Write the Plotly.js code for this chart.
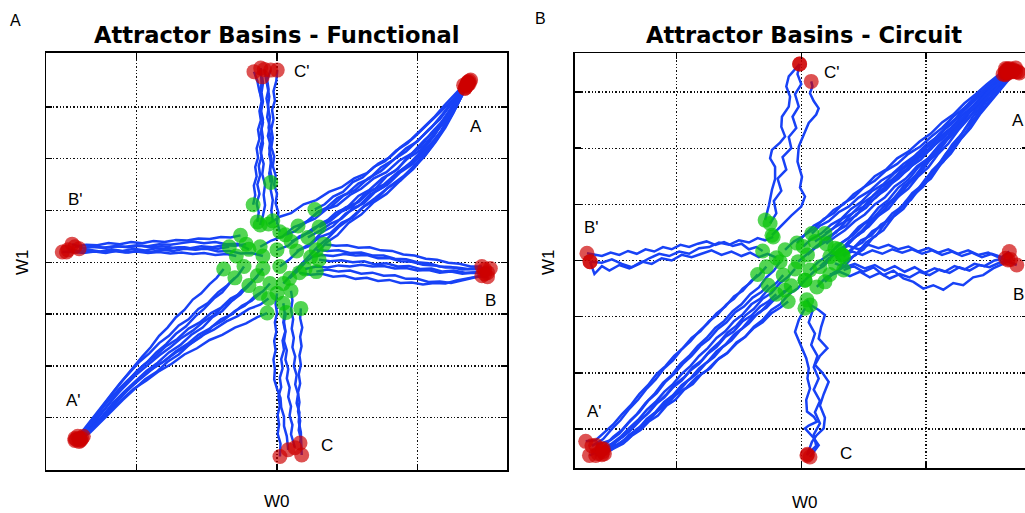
<!DOCTYPE html>
<html>
<head>
<meta charset="utf-8">
<script src="https://cdn.plot.ly/plotly-3.0.1.min.js"></script>
<style>
html,body{margin:0;padding:0;background:#fff;overflow:hidden;}
#chart{width:1035px;height:513px;}
</style>
</head>
<body>
<div id="chart"></div>
<script>
// ---------------- DATA ----------------
const panelTitles = ["Attractor Basins - Functional", "Attractor Basins - Circuit"];
const panelLetters = ["A", "B"];
const basinNames = ["A", "A'", "B", "B'", "C", "C'"];

// Functional network: trajectories (W0, W1) from start (green) to attractor (red)
const funcToA = [
 [[0.27,1.02],[0.34,1.12],[0.4,1.27],[0.47,1.36],[0.54,1.55],[0.61,1.64],[0.69,1.84],[0.77,1.95],[0.85,2.16],[0.93,2.3],[1.01,2.5],[1.08,2.68],[1.15,2.86],[1.22,3.05],[1.28,3.22],[1.34,3.4],[1.38,3.52]],
 [[0.15,0.7],[0.22,0.8],[0.29,0.97],[0.35,1.05],[0.43,1.24],[0.5,1.33],[0.58,1.52],[0.66,1.62],[0.74,1.83],[0.83,1.98],[0.92,2.2],[1.0,2.33],[1.08,2.56],[1.16,2.76],[1.22,2.98],[1.29,3.2],[1.35,3.42]],
 [[0.06,0.53],[0.13,0.6],[0.2,0.76],[0.27,0.84],[0.35,1.02],[0.43,1.1],[0.52,1.3],[0.6,1.42],[0.69,1.62],[0.78,1.74],[0.87,1.96],[0.96,2.1],[1.05,2.36],[1.13,2.55],[1.2,2.8],[1.27,3.05],[1.33,3.32],[1.37,3.45]],
 [[0.0,0.24],[0.08,0.32],[0.16,0.5],[0.24,0.58],[0.32,0.76],[0.4,0.86],[0.49,1.06],[0.58,1.16],[0.67,1.38],[0.76,1.5],[0.86,1.74],[0.95,1.9],[1.04,2.14],[1.12,2.36],[1.19,2.6],[1.25,2.86],[1.3,3.12],[1.34,3.36]],
 [[0.02,-0.08],[0.09,0.06],[0.16,0.24],[0.24,0.36],[0.32,0.58],[0.4,0.7],[0.49,0.94],[0.58,1.08],[0.67,1.32],[0.76,1.46],[0.86,1.72],[0.95,1.92],[1.04,2.18],[1.12,2.44],[1.19,2.74],[1.26,3.04],[1.31,3.3],[1.36,3.47]],
 [[0.09,-0.31],[0.15,-0.16],[0.21,0.02],[0.28,0.16],[0.35,0.38],[0.43,0.52],[0.51,0.76],[0.6,0.92],[0.69,1.16],[0.78,1.32],[0.88,1.58],[0.97,1.8],[1.06,2.08],[1.14,2.38],[1.21,2.7],[1.27,3.0],[1.32,3.28],[1.36,3.44]],
 [[0.045,-0.41],[0.1,-0.25],[0.16,-0.06],[0.22,0.1],[0.29,0.3],[0.36,0.46],[0.44,0.68],[0.52,0.84],[0.61,1.06],[0.7,1.24],[0.8,1.46],[0.9,1.66],[1.0,1.92],[1.08,2.2],[1.16,2.5],[1.23,2.82],[1.29,3.12],[1.34,3.36]],
 [[-0.06,0.74],[0.02,0.88],[0.1,0.95],[0.19,1.12],[0.28,1.2],[0.37,1.36],[0.46,1.45],[0.55,1.62],[0.64,1.72],[0.72,1.9],[0.8,2.02],[0.88,2.22],[0.96,2.38],[1.04,2.6],[1.12,2.8],[1.19,3.02],[1.26,3.22],[1.33,3.42]],
 [[0.3,0.68],[0.38,0.8],[0.46,0.98],[0.54,1.08],[0.62,1.3],[0.7,1.42],[0.78,1.66],[0.86,1.8],[0.94,2.06],[1.02,2.22],[1.1,2.5],[1.17,2.7],[1.24,2.98],[1.3,3.22],[1.36,3.46]],
 [[0.14,0.22],[0.22,0.3],[0.3,0.48],[0.38,0.56],[0.46,0.76],[0.54,0.86],[0.62,1.08],[0.7,1.2],[0.79,1.44],[0.88,1.58],[0.97,1.84],[1.05,2.04],[1.13,2.32],[1.2,2.6],[1.26,2.9],[1.31,3.18],[1.35,3.4]],
 [[-0.12,0.3],[-0.04,0.42],[0.04,0.5],[0.12,0.68],[0.2,0.76],[0.29,0.96],[0.38,1.06],[0.47,1.28],[0.56,1.4],[0.65,1.62],[0.74,1.76],[0.83,1.98],[0.92,2.14],[1.01,2.38],[1.1,2.6],[1.18,2.86],[1.25,3.1],[1.31,3.34],[1.36,3.48]],
 [[0.22,0.48],[0.3,0.6],[0.38,0.74],[0.46,0.84],[0.54,1.04],[0.62,1.14],[0.7,1.36],[0.79,1.5],[0.88,1.74],[0.97,1.9],[1.06,2.16],[1.14,2.4],[1.21,2.68],[1.27,2.96],[1.32,3.22],[1.37,3.5]],
 [[0.1,0.4],[0.18,0.5],[0.26,0.66],[0.34,0.76],[0.42,0.96],[0.5,1.06],[0.58,1.28],[0.66,1.4],[0.75,1.62],[0.84,1.76],[0.93,2.0],[1.02,2.16],[1.1,2.42],[1.18,2.66],[1.25,2.94],[1.31,3.22],[1.36,3.44]]
];
const funcToAp = [
 [[-0.38,-0.13],[-0.43,-0.3],[-0.48,-0.42],[-0.54,-0.6],[-0.6,-0.72],[-0.66,-0.92],[-0.72,-1.06],[-0.78,-1.26],[-0.84,-1.42],[-0.9,-1.64],[-0.96,-1.82],[-1.03,-2.04],[-1.1,-2.28],[-1.17,-2.52],[-1.24,-2.78],[-1.3,-3.0],[-1.36,-3.2],[-1.42,-3.36]],
 [[-0.235,-0.08],[-0.28,-0.26],[-0.33,-0.38],[-0.39,-0.58],[-0.45,-0.7],[-0.52,-0.9],[-0.58,-1.04],[-0.65,-1.24],[-0.72,-1.38],[-0.79,-1.58],[-0.86,-1.74],[-0.93,-1.94],[-1.0,-2.1],[-1.07,-2.32],[-1.14,-2.54],[-1.21,-2.78],[-1.28,-3.02],[-1.35,-3.22],[-1.41,-3.4]],
 [[-0.14,-0.26],[-0.19,-0.42],[-0.25,-0.54],[-0.31,-0.72],[-0.38,-0.84],[-0.45,-1.02],[-0.52,-1.14],[-0.6,-1.32],[-0.68,-1.46],[-0.76,-1.64],[-0.84,-1.8],[-0.92,-1.98],[-1.0,-2.16],[-1.08,-2.38],[-1.16,-2.6],[-1.23,-2.84],[-1.3,-3.06],[-1.37,-3.26],[-1.43,-3.42]],
 [[-0.12,-0.6],[-0.18,-0.74],[-0.25,-0.84],[-0.32,-1.0],[-0.4,-1.1],[-0.48,-1.28],[-0.56,-1.4],[-0.64,-1.58],[-0.72,-1.72],[-0.8,-1.9],[-0.88,-2.04],[-0.96,-2.22],[-1.04,-2.4],[-1.12,-2.62],[-1.2,-2.84],[-1.27,-3.06],[-1.34,-3.26],[-1.4,-3.44]],
 [[-0.06,-0.7],[-0.12,-0.82],[-0.2,-0.9],[-0.28,-1.04],[-0.36,-1.14],[-0.45,-1.3],[-0.54,-1.42],[-0.63,-1.6],[-0.72,-1.74],[-0.81,-1.92],[-0.9,-2.08],[-0.98,-2.26],[-1.06,-2.46],[-1.14,-2.68],[-1.22,-2.9],[-1.29,-3.1],[-1.36,-3.3],[-1.41,-3.46]],
 [[-0.1,-0.12],[-0.15,-0.3],[-0.2,-0.42],[-0.26,-0.62],[-0.32,-0.74],[-0.39,-0.94],[-0.46,-1.06],[-0.53,-1.26],[-0.61,-1.4],[-0.69,-1.6],[-0.77,-1.74],[-0.85,-1.94],[-0.93,-2.1],[-1.01,-2.3],[-1.09,-2.5],[-1.17,-2.72],[-1.24,-2.96],[-1.31,-3.16],[-1.38,-3.36]],
 [[-0.07,-0.98],[-0.14,-1.06],[-0.22,-1.18],[-0.3,-1.26],[-0.39,-1.4],[-0.48,-1.5],[-0.57,-1.66],[-0.66,-1.78],[-0.75,-1.96],[-0.84,-2.1],[-0.93,-2.28],[-1.02,-2.44],[-1.1,-2.64],[-1.18,-2.84],[-1.26,-3.04],[-1.33,-3.24],[-1.39,-3.4]],
 [[-0.2,-0.45],[-0.26,-0.6],[-0.33,-0.7],[-0.4,-0.88],[-0.47,-0.98],[-0.55,-1.16],[-0.63,-1.28],[-0.71,-1.48],[-0.79,-1.62],[-0.87,-1.82],[-0.95,-1.98],[-1.03,-2.18],[-1.11,-2.4],[-1.19,-2.64],[-1.26,-2.88],[-1.33,-3.1],[-1.39,-3.3],[-1.44,-3.44]],
 [[-0.05,-0.41],[-0.1,-0.56],[-0.16,-0.66],[-0.23,-0.84],[-0.3,-0.94],[-0.38,-1.12],[-0.46,-1.24],[-0.54,-1.44],[-0.62,-1.58],[-0.7,-1.78],[-0.78,-1.92],[-0.86,-2.12],[-0.94,-2.26],[-1.02,-2.46],[-1.1,-2.66],[-1.18,-2.88],[-1.26,-3.1],[-1.33,-3.28],[-1.4,-3.42]],
 [[-0.3,-0.3],[-0.36,-0.46],[-0.42,-0.58],[-0.49,-0.78],[-0.56,-0.9],[-0.63,-1.1],[-0.7,-1.22],[-0.77,-1.42],[-0.84,-1.56],[-0.91,-1.76],[-0.98,-1.92],[-1.05,-2.12],[-1.12,-2.34],[-1.19,-2.58],[-1.26,-2.82],[-1.32,-3.04],[-1.38,-3.24],[-1.44,-3.4]]
];
const funcToB = [
 [[0.335,0.35],[0.42,0.32],[0.5,0.33],[0.58,0.28],[0.66,0.29],[0.74,0.23],[0.82,0.22],[0.9,0.15],[0.98,0.13],[1.06,0.07],[1.14,0.05],[1.22,-0.01],[1.3,-0.03],[1.38,-0.08],[1.46,-0.08]],
 [[0.28,0.24],[0.36,0.22],[0.44,0.23],[0.52,0.18],[0.6,0.19],[0.68,0.13],[0.76,0.13],[0.84,0.07],[0.92,0.06],[1.0,0.0],[1.08,-0.02],[1.16,-0.08],[1.24,-0.09],[1.32,-0.14],[1.4,-0.13],[1.48,-0.14]],
 [[0.28,-0.18],[0.36,-0.14],[0.44,-0.18],[0.52,-0.16],[0.6,-0.22],[0.68,-0.2],[0.76,-0.26],[0.84,-0.25],[0.92,-0.32],[1.0,-0.32],[1.08,-0.38],[1.16,-0.37],[1.24,-0.4],[1.32,-0.35],[1.4,-0.31],[1.46,-0.26]],
 [[0.2,-0.13],[0.28,-0.08],[0.36,-0.1],[0.44,-0.06],[0.52,-0.08],[0.6,-0.05],[0.68,-0.08],[0.76,-0.07],[0.84,-0.12],[0.92,-0.11],[1.0,-0.16],[1.08,-0.15],[1.16,-0.2],[1.24,-0.18],[1.32,-0.22],[1.4,-0.2],[1.48,-0.22]],
 [[0.3,0.05],[0.38,0.02],[0.46,0.04],[0.54,0.0],[0.62,0.02],[0.7,-0.04],[0.78,-0.02],[0.86,-0.08],[0.94,-0.07],[1.02,-0.13],[1.1,-0.12],[1.18,-0.18],[1.26,-0.16],[1.34,-0.2],[1.42,-0.19],[1.5,-0.2]],
 [[0.24,0.1],[0.32,0.14],[0.4,0.12],[0.48,0.16],[0.56,0.13],[0.64,0.14],[0.72,0.08],[0.8,0.08],[0.88,0.02],[0.96,0.01],[1.04,-0.05],[1.12,-0.06],[1.2,-0.1],[1.28,-0.1],[1.36,-0.13],[1.44,-0.11],[1.52,-0.12]],
 [[0.16,-0.2],[0.24,-0.24],[0.32,-0.22],[0.4,-0.28],[0.48,-0.26],[0.56,-0.32],[0.64,-0.3],[0.72,-0.36],[0.8,-0.34],[0.88,-0.4],[0.96,-0.39],[1.04,-0.43],[1.12,-0.4],[1.2,-0.41],[1.28,-0.35],[1.36,-0.31],[1.44,-0.27],[1.5,-0.28]]
];
const funcToBp = [
 [[-0.26,0.52],[-0.33,0.48],[-0.4,0.49],[-0.48,0.45],[-0.56,0.46],[-0.64,0.42],[-0.72,0.43],[-0.8,0.39],[-0.88,0.41],[-0.96,0.37],[-1.04,0.39],[-1.12,0.35],[-1.2,0.37],[-1.28,0.33],[-1.36,0.34],[-1.44,0.3]],
 [[-0.22,0.35],[-0.3,0.32],[-0.38,0.33],[-0.46,0.29],[-0.54,0.31],[-0.62,0.27],[-0.7,0.29],[-0.78,0.25],[-0.86,0.27],[-0.94,0.23],[-1.02,0.26],[-1.1,0.22],[-1.18,0.25],[-1.26,0.21],[-1.34,0.24],[-1.42,0.22],[-1.49,0.24]],
 [[-0.29,0.12],[-0.36,0.16],[-0.44,0.14],[-0.52,0.18],[-0.6,0.16],[-0.68,0.19],[-0.76,0.17],[-0.84,0.2],[-0.92,0.18],[-1.0,0.21],[-1.08,0.19],[-1.16,0.22],[-1.24,0.2],[-1.32,0.22],[-1.4,0.2],[-1.5,0.2]],
 [[-0.1,0.12],[-0.18,0.18],[-0.26,0.17],[-0.34,0.22],[-0.42,0.21],[-0.5,0.26],[-0.58,0.25],[-0.66,0.29],[-0.74,0.28],[-0.82,0.31],[-0.9,0.29],[-0.98,0.32],[-1.06,0.29],[-1.14,0.31],[-1.22,0.28],[-1.3,0.3],[-1.38,0.28],[-1.46,0.35]],
 [[-0.2,0.25],[-0.28,0.36],[-0.36,0.35],[-0.44,0.39],[-0.52,0.37],[-0.6,0.4],[-0.68,0.37],[-0.76,0.34],[-0.84,0.35],[-0.92,0.31],[-1.0,0.33],[-1.08,0.3],[-1.16,0.31],[-1.24,0.28],[-1.32,0.3],[-1.41,0.26]],
 [[-0.34,0.3],[-0.42,0.26],[-0.5,0.28],[-0.58,0.24],[-0.66,0.26],[-0.74,0.22],[-0.82,0.24],[-0.9,0.2],[-0.98,0.23],[-1.06,0.19],[-1.14,0.22],[-1.22,0.18],[-1.3,0.21],[-1.38,0.18],[-1.46,0.21],[-1.53,0.2]]
];
const funcToC = [
 [[0.045,-0.79],[0.055,-0.98],[0.045,-1.16],[0.06,-1.34],[0.05,-1.52],[0.07,-1.7],[0.06,-1.88],[0.08,-2.06],[0.07,-2.24],[0.09,-2.42],[0.08,-2.6],[0.1,-2.78],[0.09,-2.96],[0.11,-3.14],[0.1,-3.32],[0.128,-3.58]],
 [[0.17,-0.89],[0.165,-1.08],[0.18,-1.26],[0.165,-1.44],[0.175,-1.62],[0.16,-1.8],[0.17,-1.98],[0.155,-2.16],[0.165,-2.34],[0.15,-2.52],[0.16,-2.7],[0.15,-2.88],[0.165,-3.06],[0.155,-3.24],[0.17,-3.4],[0.164,-3.49]],
 [[0.065,-0.97],[0.05,-1.15],[0.06,-1.33],[0.04,-1.51],[0.05,-1.69],[0.03,-1.87],[0.04,-2.05],[0.02,-2.23],[0.03,-2.41],[0.01,-2.59],[0.02,-2.77],[0.005,-2.95],[0.015,-3.13],[0.005,-3.31],[0.025,-3.5],[0.021,-3.75]],
 [[0.0,-0.6],[-0.01,-0.8],[0.0,-0.98],[-0.015,-1.16],[-0.005,-1.34],[-0.02,-1.52],[-0.01,-1.7],[-0.025,-1.88],[-0.015,-2.06],[-0.02,-2.26],[0.0,-2.44],[0.025,-2.62],[0.03,-2.8],[0.05,-2.98],[0.05,-3.16],[0.07,-3.36],[0.08,-3.62]],
 [[0.1,-0.55],[0.11,-0.74],[0.1,-0.92],[0.115,-1.1],[0.105,-1.28],[0.12,-1.46],[0.11,-1.64],[0.13,-1.82],[0.12,-2.0],[0.14,-2.18],[0.13,-2.36],[0.15,-2.54],[0.14,-2.72],[0.16,-2.9],[0.155,-3.08],[0.17,-3.28],[0.176,-3.72]]
];
const funcToCp = [
 [[-0.045,1.54],[-0.055,1.72],[-0.04,1.9],[-0.055,2.08],[-0.045,2.26],[-0.065,2.44],[-0.05,2.62],[-0.07,2.8],[-0.06,2.98],[-0.075,3.16],[-0.06,3.34],[-0.07,3.52],[-0.045,3.71]],
 [[-0.17,1.11],[-0.155,1.3],[-0.165,1.48],[-0.145,1.66],[-0.155,1.84],[-0.135,2.02],[-0.145,2.2],[-0.125,2.38],[-0.135,2.56],[-0.115,2.74],[-0.125,2.92],[-0.11,3.1],[-0.12,3.28],[-0.11,3.46],[-0.116,3.75]],
 [[-0.14,0.78],[-0.13,0.96],[-0.145,1.14],[-0.125,1.32],[-0.14,1.5],[-0.12,1.68],[-0.13,1.86],[-0.11,2.04],[-0.12,2.22],[-0.1,2.4],[-0.11,2.58],[-0.1,2.76],[-0.115,2.94],[-0.105,3.12],[-0.125,3.3],[-0.14,3.5],[-0.164,3.68]],
 [[0.02,0.59],[0.0,0.78],[0.01,0.96],[-0.01,1.14],[0.0,1.32],[-0.02,1.5],[-0.01,1.68],[-0.03,1.86],[-0.02,2.04],[-0.04,2.22],[-0.03,2.4],[-0.04,2.58],[-0.025,2.76],[-0.035,2.94],[-0.015,3.12],[-0.025,3.3],[-0.005,3.5],[0.002,3.71]],
 [[-0.12,0.72],[-0.1,0.9],[-0.085,1.1],[-0.095,1.3],[-0.085,1.5],[-0.105,1.7],[-0.095,1.9],[-0.115,2.1],[-0.1,2.3],[-0.115,2.5],[-0.1,2.7],[-0.115,2.9],[-0.1,3.1],[-0.11,3.28],[-0.1,3.45],[-0.105,3.58]],
 [[-0.03,0.8],[-0.04,1.0],[-0.03,1.2],[-0.045,1.4],[-0.035,1.6],[-0.05,1.8],[-0.04,2.0],[-0.055,2.2],[-0.045,2.4],[-0.06,2.6],[-0.05,2.8],[-0.065,3.0],[-0.055,3.2],[-0.07,3.4],[-0.09,3.72]]
];

// Circuit network trajectories
const circToA = [
 [[0.34,0.07],[0.41,0.22],[0.49,0.32],[0.57,0.52],[0.65,0.62],[0.73,0.84],[0.81,0.96],[0.89,1.2],[0.97,1.34],[1.05,1.6],[1.13,1.78],[1.21,2.06],[1.29,2.26],[1.37,2.54],[1.45,2.76],[1.53,3.02],[1.61,3.2],[1.69,3.38]],
 [[0.27,0.22],[0.34,0.34],[0.42,0.46],[0.5,0.64],[0.58,0.76],[0.66,0.96],[0.74,1.1],[0.82,1.32],[0.9,1.46],[0.98,1.7],[1.06,1.86],[1.14,2.1],[1.22,2.28],[1.3,2.52],[1.38,2.7],[1.46,2.94],[1.54,3.1],[1.62,3.3],[1.67,3.42]],
 [[0.19,0.48],[0.26,0.58],[0.33,0.74],[0.41,0.84],[0.49,1.02],[0.57,1.14],[0.65,1.32],[0.73,1.44],[0.82,1.64],[0.9,1.78],[0.99,1.98],[1.07,2.14],[1.16,2.36],[1.24,2.52],[1.32,2.74],[1.41,2.92],[1.5,3.12],[1.58,3.26],[1.65,3.4]],
 [[0.085,0.48],[0.15,0.62],[0.22,0.7],[0.3,0.86],[0.38,0.96],[0.46,1.12],[0.55,1.24],[0.64,1.42],[0.73,1.54],[0.82,1.72],[0.91,1.86],[1.0,2.06],[1.09,2.2],[1.18,2.42],[1.27,2.58],[1.36,2.8],[1.45,2.98],[1.54,3.18],[1.62,3.32]],
 [[0.15,-0.11],[0.22,0.04],[0.3,0.14],[0.38,0.34],[0.46,0.46],[0.54,0.66],[0.62,0.8],[0.7,1.0],[0.78,1.14],[0.86,1.36],[0.94,1.52],[1.02,1.76],[1.1,1.94],[1.18,2.18],[1.26,2.36],[1.34,2.6],[1.42,2.8],[1.5,3.02],[1.58,3.2],[1.64,3.34]],
 [[0.23,0.07],[0.3,0.18],[0.38,0.3],[0.46,0.48],[0.54,0.6],[0.62,0.8],[0.7,0.92],[0.78,1.14],[0.86,1.28],[0.94,1.5],[1.02,1.66],[1.1,1.9],[1.18,2.08],[1.26,2.32],[1.34,2.52],[1.42,2.76],[1.5,2.96],[1.58,3.16],[1.66,3.32],[1.72,3.43]],
 [[0.11,0.34],[0.18,0.44],[0.26,0.58],[0.34,0.68],[0.42,0.86],[0.5,0.96],[0.58,1.16],[0.66,1.28],[0.75,1.48],[0.84,1.62],[0.93,1.84],[1.02,1.98],[1.11,2.2],[1.2,2.36],[1.29,2.58],[1.38,2.76],[1.47,2.98],[1.56,3.14],[1.64,3.3],[1.7,3.4]],
 [[0.33,0.1],[0.4,0.18],[0.48,0.36],[0.56,0.44],[0.64,0.64],[0.72,0.74],[0.8,0.96],[0.88,1.08],[0.96,1.32],[1.04,1.46],[1.12,1.72],[1.2,1.9],[1.28,2.16],[1.36,2.36],[1.44,2.62],[1.52,2.84],[1.6,3.06],[1.68,3.26],[1.75,3.34]],
 [[0.07,-0.17],[0.14,-0.02],[0.22,0.1],[0.3,0.28],[0.38,0.4],[0.46,0.6],[0.54,0.72],[0.62,0.94],[0.7,1.08],[0.78,1.3],[0.86,1.44],[0.94,1.66],[1.02,1.82],[1.1,2.04],[1.18,2.22],[1.26,2.44],[1.34,2.62],[1.42,2.84],[1.5,3.02],[1.58,3.2],[1.64,3.31]],
 [[0.015,0.25],[0.08,0.38],[0.16,0.48],[0.24,0.64],[0.32,0.74],[0.4,0.92],[0.48,1.04],[0.57,1.24],[0.66,1.36],[0.75,1.56],[0.84,1.7],[0.93,1.9],[1.02,2.04],[1.11,2.26],[1.2,2.42],[1.29,2.64],[1.38,2.82],[1.47,3.02],[1.56,3.18],[1.64,3.36]],
 [[-0.035,0.31],[0.03,0.46],[0.1,0.56],[0.18,0.74],[0.26,0.84],[0.34,1.02],[0.42,1.12],[0.5,1.3],[0.59,1.42],[0.68,1.6],[0.77,1.72],[0.86,1.9],[0.95,2.02],[1.04,2.2],[1.13,2.36],[1.22,2.56],[1.31,2.72],[1.4,2.92],[1.49,3.08],[1.58,3.26],[1.66,3.4]],
 [[0.03,-0.35],[0.1,-0.2],[0.18,-0.1],[0.26,0.1],[0.34,0.2],[0.42,0.4],[0.5,0.52],[0.58,0.74],[0.66,0.88],[0.74,1.1],[0.82,1.26],[0.9,1.48],[0.98,1.64],[1.06,1.88],[1.14,2.06],[1.22,2.3],[1.3,2.5],[1.38,2.74],[1.46,2.92],[1.54,3.12],[1.62,3.28],[1.69,3.36]],
 [[0.125,-0.47],[0.2,-0.3],[0.28,-0.22],[0.36,0.0],[0.44,0.1],[0.52,0.32],[0.6,0.44],[0.68,0.68],[0.76,0.82],[0.84,1.06],[0.92,1.22],[1.0,1.46],[1.08,1.64],[1.16,1.9],[1.24,2.1],[1.32,2.36],[1.4,2.56],[1.48,2.82],[1.56,3.02],[1.64,3.22],[1.72,3.36]],
 [[-0.13,0.19],[-0.06,0.34],[0.02,0.44],[0.1,0.62],[0.18,0.72],[0.26,0.9],[0.34,1.0],[0.42,1.18],[0.5,1.3],[0.59,1.5],[0.68,1.62],[0.77,1.82],[0.86,1.94],[0.95,2.12],[1.04,2.26],[1.13,2.46],[1.22,2.6],[1.31,2.8],[1.4,2.96],[1.49,3.14],[1.57,3.28],[1.64,3.42]],
 [[0.19,-0.38],[0.26,-0.22],[0.34,-0.12],[0.42,0.08],[0.5,0.2],[0.58,0.42],[0.66,0.54],[0.74,0.78],[0.82,0.92],[0.9,1.16],[0.98,1.32],[1.06,1.58],[1.14,1.76],[1.22,2.02],[1.3,2.22],[1.38,2.48],[1.46,2.7],[1.54,2.94],[1.62,3.14],[1.7,3.3],[1.74,3.36]],
 [[-0.025,-0.02],[0.05,0.12],[0.12,0.24],[0.2,0.4],[0.28,0.5],[0.36,0.7],[0.44,0.8],[0.52,1.0],[0.6,1.12],[0.69,1.32],[0.78,1.46],[0.87,1.66],[0.96,1.8],[1.05,2.02],[1.14,2.18],[1.23,2.4],[1.32,2.58],[1.41,2.8],[1.5,2.98],[1.58,3.18],[1.66,3.34]],
 [[0.2,0.3],[0.27,0.42],[0.35,0.54],[0.43,0.7],[0.51,0.82],[0.59,1.0],[0.67,1.12],[0.75,1.32],[0.84,1.46],[0.93,1.68],[1.02,1.82],[1.11,2.04],[1.2,2.2],[1.29,2.44],[1.38,2.62],[1.47,2.86],[1.56,3.06],[1.64,3.26],[1.7,3.38]],
 [[0.05,0.1],[0.12,0.24],[0.2,0.34],[0.28,0.52],[0.36,0.62],[0.44,0.82],[0.52,0.94],[0.6,1.14],[0.68,1.26],[0.77,1.48],[0.86,1.62],[0.95,1.84],[1.04,1.98],[1.13,2.2],[1.22,2.36],[1.31,2.58],[1.4,2.76],[1.49,2.98],[1.58,3.16],[1.66,3.36]]
];
const circToAp = [
 [[-0.28,-0.11],[-0.34,-0.26],[-0.4,-0.36],[-0.47,-0.54],[-0.54,-0.64],[-0.61,-0.82],[-0.68,-0.94],[-0.75,-1.12],[-0.82,-1.26],[-0.89,-1.44],[-0.96,-1.58],[-1.03,-1.78],[-1.1,-1.92],[-1.17,-2.12],[-1.24,-2.28],[-1.31,-2.48],[-1.38,-2.64],[-1.45,-2.84],[-1.52,-3.0],[-1.59,-3.18],[-1.68,-3.3]],
 [[-0.265,-0.44],[-0.32,-0.56],[-0.39,-0.66],[-0.46,-0.82],[-0.53,-0.92],[-0.6,-1.1],[-0.67,-1.22],[-0.74,-1.4],[-0.81,-1.52],[-0.88,-1.7],[-0.95,-1.84],[-1.02,-2.02],[-1.09,-2.16],[-1.16,-2.36],[-1.23,-2.5],[-1.3,-2.7],[-1.37,-2.84],[-1.44,-3.02],[-1.51,-3.14],[-1.58,-3.3],[-1.63,-3.44]],
 [[-0.145,-0.26],[-0.2,-0.4],[-0.26,-0.5],[-0.33,-0.68],[-0.4,-0.78],[-0.47,-0.96],[-0.54,-1.08],[-0.61,-1.26],[-0.68,-1.38],[-0.75,-1.56],[-0.82,-1.7],[-0.89,-1.88],[-0.96,-2.02],[-1.03,-2.2],[-1.1,-2.34],[-1.17,-2.52],[-1.24,-2.66],[-1.31,-2.84],[-1.38,-2.98],[-1.45,-3.14],[-1.52,-3.26],[-1.6,-3.36]],
 [[-0.13,-0.53],[-0.19,-0.66],[-0.26,-0.76],[-0.33,-0.92],[-0.4,-1.02],[-0.47,-1.2],[-0.54,-1.32],[-0.61,-1.5],[-0.68,-1.62],[-0.75,-1.8],[-0.82,-1.92],[-0.89,-2.1],[-0.96,-2.22],[-1.03,-2.4],[-1.1,-2.52],[-1.17,-2.7],[-1.24,-2.82],[-1.31,-3.0],[-1.38,-3.1],[-1.45,-3.26],[-1.52,-3.36],[-1.6,-3.46]],
 [[-0.105,-0.73],[-0.17,-0.84],[-0.24,-0.94],[-0.31,-1.1],[-0.38,-1.2],[-0.45,-1.36],[-0.52,-1.46],[-0.59,-1.64],[-0.66,-1.74],[-0.73,-1.92],[-0.8,-2.02],[-0.87,-2.2],[-0.94,-2.3],[-1.01,-2.48],[-1.08,-2.58],[-1.15,-2.76],[-1.22,-2.86],[-1.29,-3.02],[-1.36,-3.12],[-1.43,-3.26],[-1.5,-3.34],[-1.58,-3.44]],
 [[-0.17,-0.02],[-0.22,-0.18],[-0.28,-0.3],[-0.34,-0.48],[-0.41,-0.6],[-0.48,-0.78],[-0.55,-0.9],[-0.62,-1.08],[-0.69,-1.2],[-0.76,-1.38],[-0.83,-1.52],[-0.9,-1.7],[-0.97,-1.84],[-1.04,-2.04],[-1.11,-2.18],[-1.18,-2.38],[-1.25,-2.54],[-1.32,-2.74],[-1.39,-2.9],[-1.46,-3.08],[-1.53,-3.2],[-1.65,-3.29]],
 [[0.03,-0.35],[-0.03,-0.5],[-0.1,-0.6],[-0.17,-0.78],[-0.24,-0.88],[-0.31,-1.06],[-0.38,-1.18],[-0.45,-1.36],[-0.52,-1.48],[-0.6,-1.66],[-0.68,-1.78],[-0.76,-1.96],[-0.84,-2.08],[-0.92,-2.26],[-1.0,-2.38],[-1.08,-2.56],[-1.16,-2.7],[-1.24,-2.88],[-1.32,-3.0],[-1.4,-3.16],[-1.48,-3.28],[-1.57,-3.38],[-1.65,-3.47]],
 [[-0.05,-0.15],[-0.11,-0.3],[-0.17,-0.4],[-0.24,-0.58],[-0.31,-0.68],[-0.38,-0.86],[-0.45,-0.98],[-0.52,-1.16],[-0.59,-1.28],[-0.66,-1.46],[-0.73,-1.6],[-0.8,-1.78],[-0.87,-1.9],[-0.94,-2.08],[-1.01,-2.2],[-1.08,-2.38],[-1.15,-2.52],[-1.22,-2.7],[-1.29,-2.84],[-1.36,-3.0],[-1.43,-3.14],[-1.5,-3.24],[-1.59,-3.35]],
 [[-0.2,-0.6],[-0.26,-0.72],[-0.33,-0.82],[-0.4,-0.98],[-0.47,-1.08],[-0.54,-1.26],[-0.61,-1.36],[-0.68,-1.54],[-0.75,-1.66],[-0.82,-1.84],[-0.89,-1.96],[-0.96,-2.14],[-1.03,-2.26],[-1.1,-2.44],[-1.17,-2.56],[-1.24,-2.74],[-1.31,-2.86],[-1.38,-3.04],[-1.45,-3.16],[-1.52,-3.3],[-1.6,-3.38],[-1.7,-3.47]],
 [[-0.35,-0.25],[-0.41,-0.4],[-0.47,-0.5],[-0.54,-0.68],[-0.6,-0.78],[-0.67,-0.96],[-0.74,-1.08],[-0.81,-1.26],[-0.88,-1.38],[-0.95,-1.56],[-1.02,-1.7],[-1.09,-1.88],[-1.16,-2.02],[-1.23,-2.22],[-1.3,-2.38],[-1.37,-2.58],[-1.44,-2.74],[-1.51,-2.92],[-1.58,-3.06],[-1.65,-3.2],[-1.73,-3.22]],
 [[-0.08,-0.45],[-0.14,-0.58],[-0.21,-0.68],[-0.28,-0.84],[-0.35,-0.94],[-0.42,-1.12],[-0.49,-1.24],[-0.56,-1.42],[-0.63,-1.54],[-0.7,-1.72],[-0.77,-1.84],[-0.84,-2.02],[-0.91,-2.14],[-0.98,-2.32],[-1.05,-2.44],[-1.12,-2.62],[-1.19,-2.74],[-1.26,-2.92],[-1.33,-3.04],[-1.4,-3.2],[-1.48,-3.3],[-1.59,-3.4]]
];
const circToB = [
 [[0.34,-0.17],[0.42,-0.1],[0.5,-0.2],[0.58,-0.12],[0.66,-0.26],[0.74,-0.18],[0.82,-0.32],[0.9,-0.38],[0.98,-0.5],[1.06,-0.44],[1.14,-0.52],[1.22,-0.4],[1.3,-0.44],[1.38,-0.3],[1.46,-0.26],[1.54,-0.14],[1.62,-0.06],[1.68,0.02]],
 [[0.33,0.1],[0.41,0.16],[0.49,0.1],[0.57,0.18],[0.65,0.12],[0.73,0.2],[0.81,0.14],[0.89,0.2],[0.97,0.12],[1.05,0.18],[1.13,0.1],[1.21,0.16],[1.29,0.08],[1.37,0.14],[1.45,0.06],[1.53,0.12],[1.61,0.06],[1.67,0.16]],
 [[0.27,-0.05],[0.35,-0.12],[0.43,-0.06],[0.51,-0.14],[0.59,-0.08],[0.67,-0.18],[0.75,-0.1],[0.83,-0.2],[0.91,-0.12],[0.99,-0.22],[1.07,-0.14],[1.15,-0.2],[1.23,-0.1],[1.31,-0.16],[1.39,-0.06],[1.47,-0.1],[1.55,0.0],[1.64,0.04]],
 [[0.23,-0.25],[0.31,-0.2],[0.39,-0.28],[0.47,-0.2],[0.55,-0.3],[0.63,-0.22],[0.71,-0.32],[0.79,-0.24],[0.87,-0.3],[0.95,-0.2],[1.03,-0.26],[1.11,-0.16],[1.19,-0.22],[1.27,-0.12],[1.35,-0.18],[1.43,-0.08],[1.51,-0.12],[1.59,-0.04],[1.66,0.01]],
 [[0.3,0.2],[0.38,0.26],[0.46,0.2],[0.54,0.28],[0.62,0.22],[0.7,0.28],[0.78,0.2],[0.86,0.25],[0.94,0.16],[1.02,0.22],[1.1,0.14],[1.18,0.2],[1.26,0.12],[1.34,0.18],[1.42,0.1],[1.5,0.14],[1.58,0.06],[1.73,-0.08]]
];
const circToBp = [
 [[-0.31,0.17],[-0.36,0.24],[-0.42,0.2],[-0.48,0.3],[-0.55,0.26],[-0.62,0.33],[-0.69,0.28],[-0.76,0.34],[-0.83,0.3],[-0.9,0.24],[-0.97,0.28],[-1.04,0.2],[-1.11,0.24],[-1.18,0.16],[-1.25,0.2],[-1.32,0.12],[-1.39,0.17],[-1.46,0.1],[-1.53,0.14],[-1.6,0.08],[-1.72,0.13]],
 [[-0.225,0.42],[-0.29,0.36],[-0.35,0.4],[-0.42,0.32],[-0.5,0.36],[-0.58,0.28],[-0.66,0.32],[-0.74,0.24],[-0.82,0.22],[-0.9,0.12],[-0.98,0.16],[-1.06,0.08],[-1.14,0.12],[-1.22,0.04],[-1.3,-0.06],[-1.38,-0.14],[-1.46,-0.08],[-1.54,-0.18],[-1.6,-0.1],[-1.66,-0.24],[-1.695,-0.02]],
 [[-0.2,0.05],[-0.27,0.12],[-0.34,0.06],[-0.41,0.14],[-0.48,0.08],[-0.56,0.16],[-0.64,0.1],[-0.72,0.18],[-0.8,0.12],[-0.88,0.06],[-0.96,0.1],[-1.04,0.0],[-1.12,0.04],[-1.2,-0.06],[-1.28,-0.02],[-1.36,-0.12],[-1.44,-0.06],[-1.52,0.02],[-1.6,-0.04],[-1.695,-0.02]]
];
const circToC = [
 [[0.072,-0.79],[0.14,-0.88],[0.19,-0.97],[0.16,-1.18],[0.14,-1.39],[0.18,-1.48],[0.21,-1.56],[0.15,-1.7],[0.11,-1.86],[0.17,-2.0],[0.22,-2.16],[0.18,-2.38],[0.15,-2.58],[0.19,-2.8],[0.18,-2.99],[0.12,-3.12],[0.086,-3.23],[0.046,-3.47]],
 [[0.03,-0.85],[-0.02,-1.06],[-0.05,-1.27],[-0.02,-1.42],[0.006,-1.56],[0.04,-1.74],[0.06,-1.92],[0.05,-2.1],[0.07,-2.28],[0.04,-2.48],[0.046,-2.69],[0.1,-2.78],[0.126,-2.87],[0.06,-2.94],[0.03,-2.99],[0.1,-3.16],[0.14,-3.29],[0.07,-3.5]],
 [[0.045,-0.7],[0.09,-0.9],[0.06,-1.1],[0.11,-1.3],[0.08,-1.5],[0.13,-1.7],[0.1,-1.9],[0.14,-2.1],[0.1,-2.3],[0.15,-2.5],[0.11,-2.7],[0.15,-2.9],[0.1,-3.1],[0.12,-3.3],[0.05,-3.45]]
];
const circToCp = [
 [[-0.29,0.72],[-0.26,0.98],[-0.235,1.26],[-0.21,1.45],[-0.21,1.67],[-0.25,1.82],[-0.235,1.97],[-0.17,2.1],[-0.13,2.21],[-0.16,2.38],[-0.155,2.56],[-0.1,2.74],[-0.09,2.92],[-0.12,3.1],[-0.1,3.28],[-0.05,3.4],[-0.013,3.5]],
 [[-0.235,0.45],[-0.16,0.62],[-0.08,0.8],[0.0,0.96],[0.03,1.14],[-0.01,1.3],[0.006,1.49],[-0.03,1.76],[-0.02,2.03],[0.02,2.24],[0.06,2.45],[0.12,2.6],[0.14,2.71],[0.1,2.84],[0.07,2.98],[0.09,3.1],[0.08,3.19]],
 [[-0.25,0.66],[-0.2,0.84],[-0.22,1.06],[-0.16,1.24],[-0.19,1.46],[-0.12,1.62],[-0.15,1.84],[-0.08,2.0],[-0.1,2.2],[-0.04,2.36],[-0.07,2.56],[-0.02,2.74],[-0.05,2.96],[0.0,3.14],[-0.03,3.32],[-0.013,3.5]]
];

// Basin label positions (W0, W1) for each panel, order as basinNames
const funcLabelW0 = [1.415, -1.447, 1.518, -1.433, 0.353, 0.18];
const funcLabelW1 = [2.63, -2.66, -0.73, 1.22, -3.53, 3.69];
const circLabelW0 = [1.74, -1.66, 1.74, -1.68, 0.357, 0.243];
const circLabelW1 = [2.49, -2.69, -0.60, 0.58, -3.43, 3.35];

// ---------------- BUILD ----------------
const W = 1035, H = 513;
const BLUE = 'rgb(24,66,246)';
const traces = [];
function addPanel(groups, xa, ya){
  const starts = {x:[], y:[]}, ends = {x:[], y:[]};
  groups.forEach(paths => {
    const x = [], y = [];
    paths.forEach(p => {
      p.forEach(pt => { x.push(pt[0]); y.push(pt[1]); });
      x.push(null); y.push(null);
      starts.x.push(p[0][0]); starts.y.push(p[0][1]);
      ends.x.push(p[p.length-1][0]); ends.y.push(p[p.length-1][1]);
    });
    traces.push({type:'scatter', mode:'lines', x:x, y:y, xaxis:xa, yaxis:ya,
      line:{color:BLUE, width:2.5}, connectgaps:false, hoverinfo:'skip', showlegend:false});
  });
  traces.push({type:'scatter', mode:'markers', x:starts.x, y:starts.y, xaxis:xa, yaxis:ya,
    marker:{size:15, color:'rgba(10,195,10,0.7)', line:{width:0}}, showlegend:false, hoverinfo:'skip'});
  traces.push({type:'scatter', mode:'markers', x:ends.x, y:ends.y, xaxis:xa, yaxis:ya,
    marker:{size:15, color:'rgba(205,0,0,0.68)', line:{width:0}}, showlegend:false, hoverinfo:'skip'});
}
addPanel([funcToA, funcToAp, funcToB, funcToBp, funcToC, funcToCp], 'x', 'y');
addPanel([circToA, circToAp, circToB, circToBp, circToC, circToCp], 'x2', 'y2');

function axis(range, domain, tickvals, anchor){
  return {range:range, domain:domain, anchor:anchor, tickvals:tickvals, ticktext:tickvals.map(()=>''),
    showticklabels:false, ticks:'inside', ticklen:6, tickwidth:1.5, tickcolor:'#000',
    showline:true, linecolor:'#000', linewidth:1.5, mirror:'ticks',
    showgrid:true, gridcolor:'#111', gridwidth:1.4, griddash:'1.4px,2px', zeroline:false, fixedrange:true};
}
const px = v => v / W, py = v => 1 - v / H;

const annotations = [];
const lbl = {family:'"Liberation Sans", Arial, sans-serif', size:17, color:'#000'};
basinNames.forEach((n,i)=>{
  annotations.push({x:funcLabelW0[i], y:funcLabelW1[i], xref:'x', yref:'y', text:n, showarrow:false, font:lbl, xanchor:'center', yanchor:'middle'});
  annotations.push({x:circLabelW0[i], y:circLabelW1[i], xref:'x2', yref:'y2', text:n, showarrow:false, font:lbl, xanchor:'center', yanchor:'middle'});
});
const titleFont = {family:'"DejaVu Sans", sans-serif', size:22.6, color:'#000', weight:'bold'};
annotations.push({x:px(276.5), y:py(35), xref:'paper', yref:'paper', text:'<b>'+panelTitles[0]+'</b>', showarrow:false, font:titleFont, xanchor:'center', yanchor:'middle'});
annotations.push({x:px(804), y:py(35), xref:'paper', yref:'paper', text:'<b>'+panelTitles[1]+'</b>', showarrow:false, font:titleFont, xanchor:'center', yanchor:'middle'});
const letterFont = {family:'"Liberation Sans", Arial, sans-serif', size:16, color:'#000'};
annotations.push({x:px(15), y:py(20), xref:'paper', yref:'paper', text:panelLetters[0], showarrow:false, font:letterFont, xanchor:'center', yanchor:'middle'});
annotations.push({x:px(540), y:py(19), xref:'paper', yref:'paper', text:panelLetters[1], showarrow:false, font:letterFont, xanchor:'center', yanchor:'middle'});
const axFont = {family:'"Liberation Sans", Arial, sans-serif', size:17, color:'#000'};
annotations.push({x:px(277), y:py(501), xref:'paper', yref:'paper', text:'W0', showarrow:false, font:axFont, xanchor:'center', yanchor:'middle'});
annotations.push({x:px(804.5), y:py(502), xref:'paper', yref:'paper', text:'W0', showarrow:false, font:axFont, xanchor:'center', yanchor:'middle'});
annotations.push({x:px(22), y:py(262), xref:'paper', yref:'paper', text:'W1', showarrow:false, font:axFont, textangle:-90, xanchor:'center', yanchor:'middle'});
annotations.push({x:px(548), y:py(262), xref:'paper', yref:'paper', text:'W1', showarrow:false, font:axFont, textangle:-90, xanchor:'center', yanchor:'middle'});

const layout = {
  width:W, height:H, margin:{l:0,r:0,t:0,b:0}, paper_bgcolor:'#fff', plot_bgcolor:'#fff',
  showlegend:false, hovermode:false,
  xaxis: axis([-1.646, 1.639], [px(46), px(507)], [-1,0,1], 'y'),
  yaxis: axis([-4.01, 4.05], [py(470), py(52.5)], [-3,-2,-1,0,1,2,3], 'x'),
  xaxis2: axis([-1.82, 1.82], [px(574.5), px(1028)], [-1,0,1], 'y2'),
  yaxis2: axis([-3.70, 3.69], [py(468.3), py(53.3)], [-3,-2,-1,0,1,2,3], 'x2'),
  annotations: annotations
};
Plotly.newPlot('chart', traces, layout, {staticPlot:true, displayModeBar:false});
</script>
</body>
</html>
